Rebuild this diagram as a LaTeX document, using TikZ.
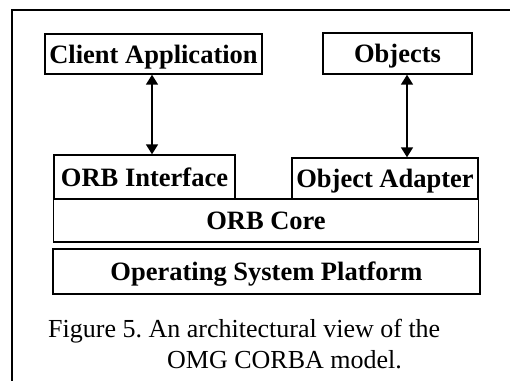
\documentclass[tikz,border=0pt]{standalone}
\usepackage{fontspec}
\setmainfont{Liberation Serif}
\usetikzlibrary{arrows.meta}
\begin{document}
\frenchspacing
\begin{tikzpicture}[x=1pt,y=-1pt,
  layer/.style={draw,line width=1.4pt,inner sep=0pt,font=\fontsize{26.5}{30}\selectfont\bfseries,
    text height=18pt,text depth=0pt},
  link/.style={line width=1.6pt,{Triangle[length=10pt,width=12pt]}-{Triangle[length=10pt,width=12pt]}},
  caption/.style={anchor=base west,inner sep=0pt,font=\fontsize{26}{30}\selectfont}]
\useasboundingbox (0,0) rectangle (510,380);
% outer frame, running off the right and bottom edges
\begin{scope}
\clip (0,0) rectangle (510,380);
\draw[line width=1.2pt] (12,390) -- (12,10) -- (520,10);
\end{scope}
% upper boxes
\node[layer,minimum width=217pt,minimum height=40pt] (client) at (153.5,54) {Client Application};
\node[layer,minimum width=149pt,minimum height=41pt] (objects) at (397.5,53.5) {Objects};
% interface boxes
\node[layer,minimum width=181pt,minimum height=44pt] (orbif) at (144.5,177) {ORB Interface};
\node[layer,minimum width=186pt,minimum height=41pt] (adapter) at (385,178.5) {Object Adapter};
% core and platform
\node[layer,minimum width=425pt,minimum height=43pt] (core) at (266,220.5) {ORB Core};
\node[layer,minimum width=427pt,minimum height=45pt] (os) at (266.5,271.5) {Operating System Platform};
% connectors
\draw[link] (client.south -| 152,0) -- (orbif.north -| 152,0);
\draw[link] (objects.south -| 407,0) -- (adapter.north -| 407,0);
% caption
\node[caption] (cap1) at (48,337) {Figure 5. An architectural view of the};
\node[caption] (cap2) at (167,368) {OMG CORBA model.};
\end{tikzpicture}
\end{document}
